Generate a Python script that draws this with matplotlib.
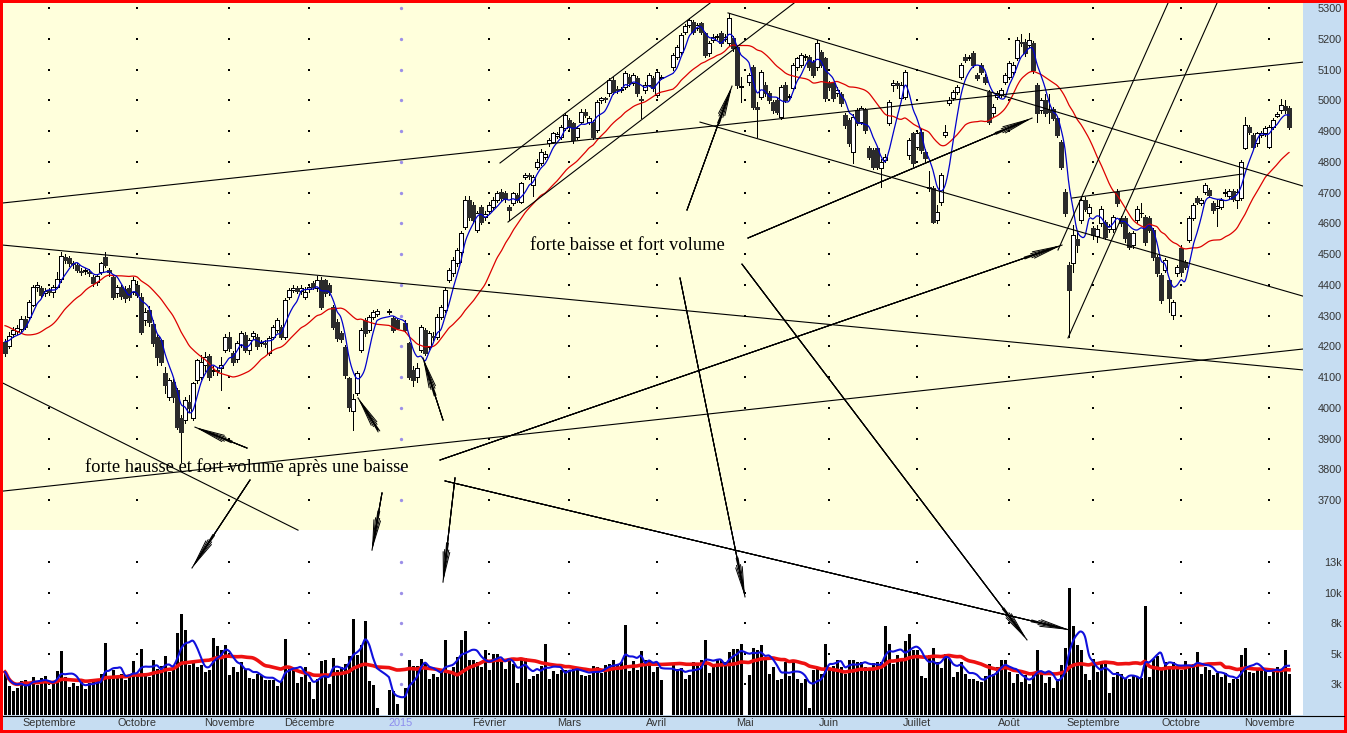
"""
    CAC 40 daily candles with volume, moving averages and hand-drawn trend lines
"""
import numpy as np
import pandas as pd
import matplotlib
matplotlib.use("Agg")
import matplotlib.pyplot as plt
from matplotlib.patches import Rectangle
from matplotlib.lines import Line2D

# ---------------------------------------------------------------- data
# one value per trading day, 15 Aug 2014 -> 9 Nov 2015 (holidays skipped)
holidays = ["2014-12-25", "2014-12-26", "2015-01-01", "2015-04-03", "2015-04-06", "2015-05-01"]

open_ = [
    4215, 4200, 4240, 4250, 4255, 4290, 4296, 4334, 4392, 4388, 4372,
    4382, 4378, 4394, 4418, 4490, 4486, 4470, 4464, 4446, 4445, 4440, 4426, 4410, 4442, 4491, 4448, 4426, 4372, 4394, 4385, 4390, 4378,
    4399, 4361, 4285, 4318, 4274, 4231, 4220, 4112, 4036, 4085, 4058, 3966, 3960, 4020, 3966, 4090, 4101, 4140, 4168, 4118, 4122, 4130, 4188,
    4231, 4177, 4160, 4205, 4236, 4188, 4232, 4231, 4210, 4212, 4177, 4231, 4253, 4264, 4231, 4361, 4383, 4388, 4380, 4361,
    4385, 4405, 4388, 4415, 4415, 4399, 4329, 4280, 4242, 4199, 4096, 3990, 4047, 4188, 4285, 4253, 4296, 4305, 4310, 4291, 4285,
    4275, 4210, 4123, 4100, 4188, 4253, 4199, 4235, 4231, 4296, 4318, 4415, 4437, 4470, 4505, 4589, 4676, 4659, 4578, 4654, 4620,
    4640, 4654, 4676, 4703, 4700, 4654, 4665, 4692, 4670, 4752, 4757, 4724, 4784, 4795, 4815, 4860, 4865, 4885, 4882, 4909,
    4936, 4925, 4882, 4930, 4963, 4930, 4930, 4903, 5000, 5006, 5022, 5066, 5036, 5033, 5044, 5077, 5055, 5071, 5003, 5033, 5050, 5071,
    5017, 5074, 5109, 5142, 5158, 5223, 5245, 5256, 5234, 5250, 5218, 5153, 5196, 5205, 5218, 5200, 5185, 5201, 5174, 5044,
    5060, 5109, 4979, 5012, 5050, 5022, 4995, 5001, 4947, 5050, 5010, 5039, 5109, 5115, 5140, 5142, 5125, 5109, 5158, 5136,
    5055, 5055, 5025, 5020, 4952, 4936, 4833, 4968, 4930, 4968, 4844, 4838, 4844, 4779, 4806, 4925, 5050, 5055, 5006, 5012, 4822, 4892,
    4849, 4898, 4833, 4715, 4714, 4611, 4670, 4887, 4990, 5006, 5028, 5077, 5142, 5136, 5153, 5082, 5115, 5077, 5028, 4957, 5012, 5017, 5060,
    5077, 5093, 5136, 5190, 5190, 5180, 5185, 5050, 4968, 5001, 4968, 4970, 4941, 4865, 4703, 4464, 4470, 4550, 4611, 4676, 4632,
    4583, 4560, 4600, 4605, 4580, 4580, 4703, 4616, 4616, 4567, 4529, 4611, 4632, 4621, 4616, 4578, 4491, 4432, 4448, 4415, 4302, 4437,
    4518, 4475, 4545, 4616, 4681, 4665, 4703, 4708, 4665, 4650, 4654, 4700, 4690, 4705, 4676, 4681, 4844, 4914, 4887, 4860, 4887, 4892,
    4849, 4914, 4950, 4968, 4981, 4974,
]
high = [
    4225, 4245, 4262, 4268, 4298, 4300, 4352, 4400, 4410, 4395, 4390,
    4390, 4398, 4440, 4505, 4500, 4495, 4478, 4470, 4455, 4456, 4450, 4432, 4436, 4475, 4505, 4455, 4430, 4400, 4400, 4395, 4398, 4425,
    4412, 4372, 4325, 4330, 4285, 4240, 4225, 4134, 4098, 4095, 4065, 3975, 4035, 4040, 4085, 4160, 4170, 4180, 4175, 4135, 4130, 4165, 4240,
    4245, 4185, 4218, 4250, 4245, 4228, 4250, 4240, 4222, 4220, 4232, 4270, 4292, 4270, 4356, 4390, 4400, 4395, 4398, 4392,
    4400, 4412, 4430, 4425, 4420, 4405, 4335, 4290, 4250, 4205, 4100, 4045, 4120, 4260, 4292, 4302, 4318, 4320, 4322, 4298, 4290,
    4285, 4215, 4135, 4145, 4270, 4260, 4250, 4245, 4305, 4335, 4390, 4455, 4490, 4520, 4575, 4690, 4690, 4668, 4640, 4660, 4640,
    4668, 4685, 4705, 4710, 4705, 4660, 4703, 4700, 4735, 4765, 4762, 4758, 4808, 4840, 4835, 4878, 4898, 4896, 4920, 4958,
    4942, 4930, 4915, 4970, 4972, 4948, 4935, 5000, 5012, 5012, 5072, 5075, 5045, 5044, 5095, 5085, 5090, 5078, 5015, 5058, 5090, 5078,
    5100, 5082, 5155, 5180, 5218, 5248, 5268, 5262, 5252, 5256, 5222, 5192, 5215, 5214, 5225, 5214, 5283, 5208, 5180, 5077,
    5090, 5115, 4995, 5100, 5058, 5030, 5002, 5008, 5050, 5058, 5020, 5122, 5142, 5155, 5150, 5148, 5130, 5196, 5165, 5140,
    5062, 5060, 5042, 5028, 4958, 4942, 4955, 4975, 4980, 4975, 4850, 4845, 4850, 4808, 4825, 5002, 5065, 5062, 5058, 5098, 4878, 4898,
    4900, 4905, 4840, 4770, 4720, 4660, 4765, 4920, 5010, 5035, 5050, 5122, 5150, 5148, 5160, 5090, 5120, 5085, 5035, 4988, 5030, 5040, 5090,
    5128, 5125, 5205, 5215, 5198, 5218, 5192, 5055, 5008, 5020, 5020, 4978, 4948, 4870, 4710, 4475, 4594, 4570, 4685, 4684, 4662,
    4590, 4595, 4655, 4612, 4598, 4628, 4710, 4622, 4622, 4572, 4575, 4655, 4665, 4628, 4622, 4585, 4498, 4438, 4488, 4420, 4352, 4465,
    4528, 4482, 4622, 4665, 4690, 4682, 4730, 4715, 4672, 4680, 4682, 4712, 4712, 4710, 4710, 4806, 4947, 4920, 4892, 4898, 4900, 4915,
    4920, 4942, 4962, 5005, 5000, 4980,
]
low = [
    4168, 4195, 4230, 4240, 4250, 4255, 4290, 4330, 4380, 4360, 4362,
    4368, 4360, 4388, 4410, 4470, 4462, 4455, 4440, 4432, 4435, 4428, 4395, 4400, 4435, 4458, 4430, 4355, 4360, 4355, 4345, 4350, 4370,
    4360, 4240, 4270, 4265, 4200, 4139, 4140, 4047, 4025, 4020, 3930, 3824, 3950, 3985, 3960, 4080, 4095, 4120, 4090, 4105, 4108, 4058, 4180,
    4185, 4140, 4150, 4198, 4180, 4175, 4225, 4190, 4200, 4198, 4170, 4225, 4245, 4225, 4225, 4355, 4375, 4372, 4370, 4355,
    4375, 4385, 4380, 4320, 4365, 4368, 4255, 4218, 4215, 4098, 3990, 3928, 4040, 4180, 4235, 4245, 4290, 4300, 4304, 4245, 4255,
    4245, 4095, 4070, 4085, 4180, 4170, 4190, 4220, 4225, 4290, 4310, 4410, 4430, 4462, 4475, 4580, 4610, 4600, 4570, 4598, 4612,
    4630, 4645, 4668, 4672, 4670, 4611, 4660, 4668, 4665, 4745, 4745, 4690, 4775, 4790, 4808, 4850, 4860, 4878, 4875, 4903,
    4905, 4860, 4875, 4925, 4945, 4922, 4875, 4898, 4992, 4995, 5015, 5020, 5025, 5026, 5038, 5048, 5050, 5015, 4941, 5025, 5045, 5030,
    5010, 5068, 5100, 5135, 5150, 5215, 5238, 5215, 5228, 5215, 5140, 5145, 5190, 5198, 5178, 5192, 5180, 5160, 5040, 4995,
    5050, 4970, 4882, 5005, 5015, 4990, 4960, 4955, 4940, 4995, 5000, 5032, 5100, 5108, 5132, 5100, 5075, 5100, 5108, 4998,
    5035, 4998, 5015, 4980, 4910, 4850, 4795, 4918, 4922, 4895, 4808, 4775, 4775, 4719, 4798, 4918, 5030, 5040, 5000, 5005, 4810, 4785,
    4840, 4830, 4800, 4705, 4600, 4600, 4660, 4880, 4985, 5000, 5020, 5070, 5125, 5130, 5108, 5065, 5085, 5052, 4922, 4950, 5005, 5010, 5052,
    5070, 5085, 5130, 5175, 5145, 5172, 5090, 4930, 4960, 4950, 4925, 4935, 4880, 4775, 4625, 4231, 4440, 4505, 4600, 4640, 4625,
    4550, 4540, 4590, 4548, 4572, 4570, 4655, 4590, 4540, 4515, 4520, 4600, 4620, 4530, 4570, 4482, 4428, 4340, 4440, 4310, 4290, 4430,
    4430, 4450, 4540, 4610, 4662, 4658, 4695, 4685, 4635, 4590, 4648, 4690, 4682, 4672, 4650, 4675, 4840, 4890, 4840, 4852, 4880, 4885,
    4845, 4908, 4945, 4960, 4960, 4905,
]
close = [
    4177, 4232, 4253, 4258, 4290, 4262, 4345, 4394, 4398, 4367, 4381,
    4376, 4392, 4420, 4493, 4480, 4470, 4468, 4448, 4442, 4448, 4437, 4405, 4430, 4470, 4464, 4442, 4361, 4392, 4362, 4357, 4360, 4415,
    4367, 4247, 4310, 4280, 4210, 4166, 4150, 4074, 4090, 4036, 3938, 3922, 4025, 3998, 4079, 4155, 4150, 4165, 4101, 4123, 4118, 4140, 4231,
    4193, 4150, 4210, 4242, 4188, 4220, 4242, 4200, 4212, 4208, 4226, 4264, 4285, 4231, 4350, 4383, 4390, 4380, 4390, 4378,
    4392, 4392, 4415, 4329, 4372, 4377, 4264, 4226, 4225, 4106, 4003, 4030, 4112, 4253, 4242, 4296, 4312, 4315, 4316, 4253, 4260,
    4253, 4101, 4090, 4130, 4264, 4177, 4242, 4231, 4296, 4329, 4383, 4448, 4480, 4513, 4567, 4676, 4621, 4611, 4632, 4605, 4630,
    4660, 4676, 4697, 4681, 4680, 4643, 4697, 4676, 4730, 4757, 4755, 4752, 4800, 4833, 4825, 4871, 4892, 4890, 4914, 4952,
    4914, 4871, 4909, 4963, 4952, 4941, 4882, 4995, 5006, 5003, 5066, 5028, 5033, 5036, 5088, 5055, 5082, 5022, 5000, 5050, 5082, 5039,
    5093, 5076, 5147, 5174, 5212, 5241, 5261, 5223, 5245, 5223, 5147, 5185, 5207, 5207, 5185, 5207, 5266, 5169, 5050, 5044,
    5082, 4979, 4970, 5093, 5022, 5000, 4968, 4963, 5044, 5001, 5012, 5115, 5136, 5147, 5142, 5109, 5082, 5185, 5115, 5006,
    5044, 5006, 5033, 4990, 4920, 4860, 4947, 4925, 4974, 4903, 4817, 4784, 4784, 4800, 4817, 4995, 5055, 5050, 5050, 5093, 4870, 4795,
    4892, 4838, 4811, 4714, 4605, 4638, 4757, 4898, 5001, 5028, 5044, 5115, 5131, 5140, 5115, 5071, 5093, 5060, 4930, 4979, 5022, 5033, 5082,
    5120, 5115, 5196, 5185, 5153, 5196, 5098, 4957, 5001, 4957, 4963, 4941, 4887, 4784, 4632, 4383, 4562, 4530, 4676, 4648, 4654,
    4562, 4580, 4648, 4556, 4590, 4621, 4665, 4600, 4551, 4524, 4567, 4648, 4635, 4540, 4578, 4491, 4437, 4350, 4481, 4356, 4345, 4459,
    4440, 4459, 4616, 4659, 4670, 4676, 4724, 4692, 4643, 4655, 4676, 4703, 4705, 4680, 4703, 4800, 4920, 4898, 4849, 4892, 4892, 4909,
    4914, 4936, 4955, 4985, 4968, 4914,
]
# closes of the 19 sessions before the window, only used to start the 20-day average
close_before = [4334, 4390, 4385, 4410, 4359, 4364, 4369, 4339, 4247, 4202,
                4235, 4205, 4146, 4132, 4148, 4212, 4201, 4227, 4257]

# volume, thousands of contracts
volume = [
    3.66, 2.45, 2.06, 2.26, 2.90, 2.96, 2.62, 3.24, 2.54, 3.18, 3.30,
    2.17, 2.74, 3.72, 5.44, 3.24, 2.40, 2.68, 2.48, 2.96, 2.17, 2.68, 2.82, 3.07, 3.52, 6.12, 3.30, 3.81, 3.24, 3.52, 2.96, 3.30, 4.57,
    3.52, 5.64, 3.52, 3.24, 4.71, 3.95, 4.14, 4.99, 3.66, 3.95, 6.96, 8.54, 7.19, 4.23, 4.60, 4.09, 4.23, 3.66, 3.81, 6.57, 5.84, 5.50, 5.92,
    3.38, 4.09, 3.66, 4.51, 3.95, 3.18, 3.02, 3.52, 3.38, 2.96, 2.96, 2.96, 2.45, 2.90, 6.43, 4.09, 3.81, 2.74, 3.24, 4.09,
    2.82, 1.33, 3.10, 4.60, 4.65, 2.62, 4.88, 3.81, 4.09, 4.31, 4.99, 8.17, 5.07, 5.92, 7.95, 2.90, 2.54, 0.56, 2.11, 2.00, 0.90,
    2.28, 4.71, 4.14, 4.20, 4.79, 4.37, 3.10, 3.52, 3.24, 3.95, 6.34, 3.75, 4.09, 4.93, 6.34, 7.10, 4.65, 4.71, 4.51, 4.09, 5.55,
    3.86, 5.21, 5.21, 4.65, 3.95, 4.65, 4.37, 2.68, 4.79, 4.88, 3.02, 3.30, 3.52, 4.14, 6.00, 3.10, 3.75, 3.52, 3.81, 3.86,
    3.81, 3.95, 4.03, 3.38, 3.30, 3.38, 4.14, 4.09, 3.58, 4.23, 4.37, 4.71, 4.37, 4.51, 7.61, 3.75, 4.60, 3.81, 5.44, 4.65, 4.65, 3.66,
    4.09, 2.96, 4.31, 3.95, 4.03, 3.10, 3.38, 4.51, 4.31, 4.71, 6.34, 3.58, 4.14, 4.71, 4.71, 4.51, 5.35, 5.64, 5.64, 6.06,
    3.38, 5.72, 5.50, 5.92, 4.65, 3.47, 4.09, 2.96, 3.10, 4.48, 3.30, 4.51, 3.10, 2.74, 3.10, 0.62, 3.81, 4.09, 3.52, 6.00,
    3.95, 4.14, 4.65, 4.09, 3.47, 4.65, 4.65, 4.51, 4.51, 4.09, 4.03, 4.42, 4.51, 4.51, 7.53, 6.06, 4.31, 5.07, 4.79, 6.29, 6.85, 5.55,
    5.50, 3.30, 3.18, 5.07, 5.72, 4.51, 4.03, 5.16, 4.79, 3.24, 3.66, 4.51, 3.52, 3.02, 3.10, 2.90, 2.82, 3.30, 4.31, 3.52, 4.09, 4.71, 4.65,
    3.66, 2.74, 3.52, 2.82, 3.38, 2.62, 3.58, 5.55, 3.52, 2.68, 3.24, 2.26, 3.10, 4.23, 5.72, 10.8, 7.53, 5.92, 5.50, 3.52, 2.96,
    4.79, 3.66, 4.31, 4.37, 1.89, 3.24, 3.66, 3.52, 3.18, 3.02, 3.38, 3.24, 3.18, 9.30, 3.24, 4.79, 4.99, 4.03, 4.51, 4.03, 4.51, 4.14,
    3.81, 4.60, 4.03, 4.31, 5.35, 3.52, 4.09, 3.81, 3.38, 3.58, 3.24, 3.58, 2.74, 3.10, 3.10, 5.07, 5.72, 3.66, 3.58, 3.81, 4.03, 3.95,
    3.30, 3.86, 4.09, 3.95, 5.50, 3.52,
]

month_labels = ["Septembre", "Octobre", "Novembre", "Décembre", "2015", "Février", "Mars",
                "Avril", "Mai", "Juin", "Juillet", "Août", "Septembre", "Octobre", "Novembre"]
price_ticks = list(range(3700, 5301, 100))
vol_ticks = [2.6, 5.2, 7.8, 10.4, 13.0]
vol_tick_labels = ["3k", "5k", "8k", "10k", "13k"]

# hand-drawn lines: (day0, price0, day1, price1, arrow at end)
# days counted in weekdays from 1 Sep 2014, prices continue below the price pane
trend_lines = [
    (-11.5, 4666, 313.5, 5124, False),
    (-11.5, 4529, 313.5, 4123, False),
    (-11.5, 3729, 313.5, 4191, False),
    (-11.5, 4080, 62.25, 3602, False),
    (112.75, 4796, 165.25, 5316, False),
    (114.75, 4604, 186.25, 5316, False),
    (169.75, 5284, 313.5, 4721, False),
    (162.75, 4929, 313.5, 4363, False),
    (255.75, 4682, 298.25, 4760, False),
    (254.75, 4227, 292.0, 5316, False),
    (252.25, 4513, 279.75, 5316, False),
    (97.75, 3830, 253.25, 4529, True),
    (174.75, 4552, 245.75, 4942, True),
    (159.5, 4643, 170.75, 5046, True),
    (157.75, 4422, 174.0, 3385, True),
    (173.25, 4467, 244.5, 3245, True),
    (99.0, 3762, 255.25, 3277, True),
    (50.25, 3765, 35.75, 3479, True),
    (83.25, 3723, 80.75, 3537, True),
    (101.5, 3772, 98.5, 3433, True),
    (49.5, 3869, 36.5, 3937, True),
    (82.25, 3928, 77.25, 4032, True),
    (98.5, 3960, 93.5, 4162, True),
]
notes = [
    (9.0, 3807, "forte hausse et fort volume après une baisse"),
    (120.25, 4529, "forte baisse et fort volume"),
]

# ---------------------------------------------------------------- layout
W, H = 1347, 733
YELLOW = "#FFFFDC"
STRIP = "#C6DDF2"
XLIM = (-11.5, 313.5)


def fx(px):
    return px / W


def fy(py):
    return 1 - py / H


def smooth(xv, yv, k=6):
    # Catmull-Rom pass through the points, so averages are drawn as soft curves
    xv = np.asarray(xv, float)
    yv = np.asarray(yv, float)
    n = len(yv)
    t = np.linspace(0, 1, k, endpoint=False)
    xs, ys = [], []
    for i in range(n - 1):
        p0 = yv[max(i - 1, 0)]
        p1 = yv[i]
        p2 = yv[i + 1]
        p3 = yv[min(i + 2, n - 1)]
        ys.append(0.5 * (2 * p1 + (-p0 + p2) * t + (2 * p0 - 5 * p1 + 4 * p2 - p3) * t ** 2
                         + (-p0 + 3 * p1 - 3 * p2 + p3) * t ** 3))
        xs.append(xv[i] + (xv[i + 1] - xv[i]) * t)
    xs.append([xv[-1]])
    ys.append([yv[-1]])
    return np.concatenate(xs), np.concatenate(ys)


weekdays = pd.bdate_range("2014-08-15", "2015-11-09")
slot = pd.Series(np.arange(len(weekdays)) - 11, index=weekdays)
dates = weekdays[~weekdays.isin(pd.to_datetime(holidays))]
x = slot[dates].values.astype(float)

months = weekdays.to_period("M")
month_pos = slot.groupby(months).first().values[1:]

o = np.array(open_, float)
h = np.array(high, float)
l = np.array(low, float)
c = np.array(close, float)
v = np.array(volume, float)

c_all = pd.Series(close_before + close, dtype=float)
ma_fast = c_all.rolling(5).mean().values[len(close_before):]
ma_slow = c_all.rolling(20).mean().values[len(close_before):]
v_fast = pd.Series(v).rolling(5, min_periods=1).mean().values
v_slow = pd.Series(v).rolling(20, min_periods=1).mean().values

fig = plt.figure(figsize=(W / 100, H / 100), dpi=100)
fig.patch.set_facecolor("#FF0000")
fig.add_artist(Rectangle((fx(3), fy(730)), fx(1344) - fx(3), fy(3) - fy(730),
                         transform=fig.transFigure, facecolor=STRIP, edgecolor="none", zorder=0))

ax_p = fig.add_axes([fx(3), fy(530), fx(1303) - fx(3), fy(3) - fy(530)])
ax_v = fig.add_axes([fx(3), fy(715), fx(1303) - fx(3), fy(530) - fy(715)])
ax_a = fig.add_axes([fx(3), fy(715), fx(1303) - fx(3), fy(3) - fy(715)])

for ax in (ax_p, ax_v, ax_a):
    ax.set_xlim(*XLIM)
    for s in ax.spines.values():
        s.set_visible(False)

ax_p.set_facecolor(YELLOW)
ax_v.set_facecolor("white")
ax_p.set_ylim(3602.5, 5316.3)
ax_v.set_ylim(0, 15.72)

# dotted grid at month starts (year boundary in lavender)
for mx, lab in zip(month_pos, month_labels):
    col, ms = ("#9C8FE8", 2.4) if lab == "2015" else ("black", 1.6)
    ax_p.plot([mx] * len(price_ticks), price_ticks, ls="none", marker="s" if col == "black" else "o",
              ms=ms, mew=0, color=col, zorder=1)
    ax_v.plot([mx] * len(vol_ticks), vol_ticks, ls="none", marker="s" if col == "black" else "o",
              ms=ms, mew=0, color=col, zorder=1)

# candles
up = c >= o
bottom = np.minimum(o, c)
height = np.maximum(np.abs(c - o), 2.5)
ax_p.vlines(x, l, h, color="black", lw=0.72, zorder=2, antialiased=False)
ax_p.bar(x[up], height[up], bottom=bottom[up], width=0.85, facecolor="white",
         edgecolor="black", linewidth=0.6, zorder=3, antialiased=False)
ax_p.bar(x[~up], height[~up], bottom=bottom[~up], width=0.85, facecolor="#2B2B2B",
         edgecolor="#2B2B2B", linewidth=0.6, zorder=3, antialiased=False)
sx, sy = smooth(x, ma_slow)
ax_p.plot(sx, sy, color="#DD0000", lw=0.9, zorder=4)
sx, sy = smooth(x, ma_fast)
ax_p.plot(sx, sy, color="#0000CC", lw=0.9, zorder=4)

# volume: 3-pixel columns on a 4-pixel pitch
ax_v.vlines(x, 0, v, color="black", lw=2.16, zorder=2, antialiased=False, capstyle="butt")
sx, sy = smooth(x, v_slow)
ax_v.plot(sx, sy, color="#EE1111", lw=2.6, zorder=3)
sx, sy = smooth(x, v_fast)
ax_v.plot(sx, sy, color="#1010DD", lw=1.5, zorder=4)

# axes labels
lab_font = dict(family="Liberation Sans", size=7.8)
ax_p.set_xticks([])
ax_p.yaxis.tick_right()
ax_p.set_yticks(price_ticks)
ax_p.set_yticklabels([str(t) for t in price_ticks], **lab_font, color="#333333")
ax_p.tick_params(axis="y", length=0, pad=28)
ax_v.yaxis.tick_right()
ax_v.set_yticks(vol_ticks)
ax_v.set_yticklabels(vol_tick_labels, **lab_font, color="#333333")
ax_v.tick_params(axis="y", length=0, pad=28)
for lab in ax_p.get_yticklabels() + ax_v.get_yticklabels():
    lab.set_horizontalalignment("right")
ax_v.set_xticks(month_pos)
ax_v.set_xticklabels(month_labels, **lab_font, color="#333333")
ax_v.tick_params(axis="x", length=0, pad=2.5)
ax_v.get_xticklabels()[month_labels.index("2015")].set_color("#8C8CEE")

fig.add_artist(Line2D([fx(3), fx(1344)], [fy(715.5), fy(715.5)], transform=fig.transFigure,
                      color="black", lw=0.8, zorder=5))

# hand-drawn annotations on a transparent overlay spanning both panes
ax_a.patch.set_alpha(0)
ax_a.set_ylim(3000.8, 5316.3)
ax_a.set_xticks([])
ax_a.set_yticks([])
for d0, p0, d1, p1, arrow in trend_lines:
    ax_a.plot([d0, d1], [p0, p1], color="black", lw=0.8)
    if arrow:
        for w in (0.07, 0.15, 0.24):
            ax_a.annotate("", xy=(d1, p1), xytext=(d0, p0),
                          arrowprops=dict(arrowstyle=f"->,head_length=1.9,head_width={w}",
                                          color="black", lw=0.7, shrinkA=0, shrinkB=0))
for d, p, txt in notes:
    ax_a.text(d, p, txt, family="Liberation Serif", fontsize=13.3, va="center", ha="left", color="black")

fig.savefig("out.png", dpi=100)
